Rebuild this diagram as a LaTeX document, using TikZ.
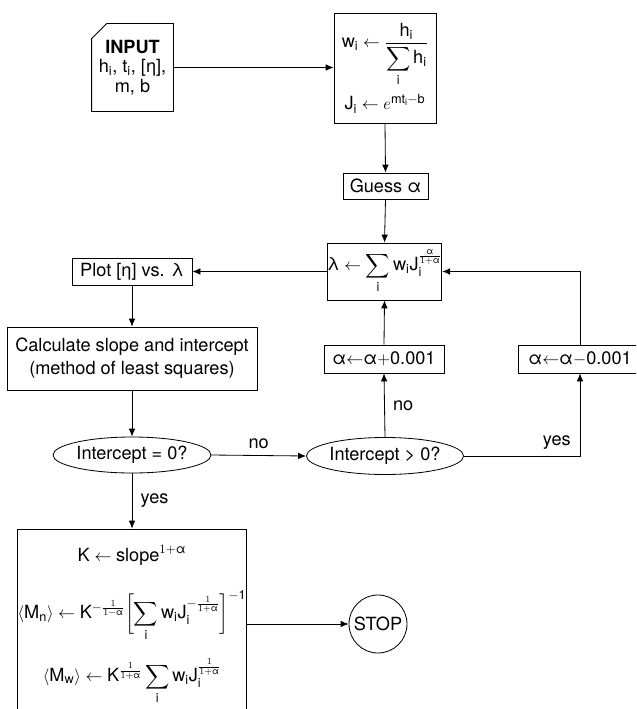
\documentclass[tikz,border=0pt]{standalone}
\usepackage{amsmath}
\usepackage{fontspec}
\setmainfont{TeX Gyre Heros}
\usetikzlibrary{positioning,arrows.meta,calc,shapes.geometric}
\newcommand{\al}{\text{α}}
\newcommand{\rv}[1]{\mathrm{#1}}

\begin{document}
\begin{tikzpicture}[x=0.03cm,y=-0.03cm,line width=0.7pt,
  font=\fontsize{15.5}{19.5}\selectfont,
  box/.style={draw,inner sep=0pt,align=center},
  test/.style={draw,ellipse,inner sep=0pt},
  arr/.style={-{Latex[length=2.4mm,width=2mm]}},
  lbl/.style={inner sep=1pt}]
\useasboundingbox (0,0) rectangle (636,709);
\clip (0,0) rectangle (636,709);
% input card with cut corner
\node[inner sep=0pt,minimum width=2.43cm,minimum height=2.61cm,align=center] (input) at (132.5,67.5)
  {\textbf{INPUT}\\[-3pt]h$_\rv{i}$, t$_\rv{i}$, [η],\\[-3pt]m, b};
\draw ($(input.north west)+(15,0)$) -- (input.north east) -- (input.south east)
  -- (input.south west) -- ($(input.north west)+(0,15)$) -- cycle;
% weights
\node[box,minimum width=3.06cm,minimum height=3.3cm] (prep) at (385,68)
  {$\rv{w}_\rv{i}\leftarrow\dfrac{\rv{h}_\rv{i}}{\displaystyle\sum_\rv{i}\rv{h}_\rv{i}}$\\[6pt]
   $\rv{J}_\rv{i}\leftarrow e^{\rv{mt}_\rv{i}-\rv{b}}$};
\node[box,minimum width=2.55cm,minimum height=0.78cm] (guess) at (385.5,186) {Guess α};
\node[box,minimum width=3.33cm,minimum height=1.71cm] (lam) at (384.5,271.5)
  {$\displaystyle\text{λ}\leftarrow\sum_\rv{i}\rv{w}_\rv{i}\rv{J}_\rv{i}^{\frac{\al}{1+\al}}$};
\node[box,minimum width=3.6cm,minimum height=0.81cm] (plot) at (132,271.5) {Plot [η] vs. λ};
\node[box,minimum width=7.5cm,minimum height=1.89cm] (calc) at (132,358.5)
  {Calculate slope and intercept\\(method of least squares)};
\node[box,minimum width=3.6cm,minimum height=0.84cm] (inc) at (384,359) {$\al{\leftarrow}\al{+}\text{0.001}$};
\node[box,minimum width=3.72cm,minimum height=0.84cm] (dec) at (580,359) {$\al{\leftarrow}\al{-}\text{0.001}$};
% tests
\node[test,minimum width=4.74cm,minimum height=1.08cm] (eqz) at (132,455) {Intercept = 0?};
\node[test,minimum width=4.71cm,minimum height=1.11cm] (gtz) at (385,456) {Intercept > 0?};
% results
\node[box,minimum width=6.6cm,minimum height=5.73cm] (res) at (132,624.5)
  {$\rv{K}\leftarrow\text{slope}^{1+\al}$\\[20pt]
   $\displaystyle\langle\rv{M}_\rv{n}\rangle\leftarrow\rv{K}^{-\frac{1}{1-\al}}
     \biggl[\sum_\rv{i}\rv{w}_\rv{i}\rv{J}_\rv{i}^{-\frac{1}{1+\al}}\biggr]^{-\text{1}}$\\[14pt]
   $\displaystyle\langle\rv{M}_\rv{w}\rangle\leftarrow\rv{K}^{\frac{1}{1+\al}}
     \sum_\rv{i}\rv{w}_\rv{i}\rv{J}_\rv{i}^{\frac{1}{1+\al}}$\\[0pt]};
\node[draw,circle,inner sep=0pt,minimum size=1.74cm] (stop) at (378,624) {STOP};
% connectors
\draw[arr] (input.east) -- (input.east -| prep.west);
\draw[arr] (prep.south) -- (guess.north);
\draw[arr] (guess.south) -- (lam.north);
\draw[arr] (lam.west) -- (plot.east);
\draw[arr] (plot.south) -- (calc.north);
\draw[arr] (calc.south) -- (eqz.north);
\draw[arr] (eqz.east) -- (gtz.west) node[lbl,midway,above=4pt] (no1) {no};
\draw[arr] (gtz.north) -- (inc.south) node[lbl,midway,right=6pt] (no2) {no};
\draw[arr] (inc.north) -- (lam.south);
\draw[arr] (gtz.east) -| (dec.south) node[lbl,pos=0.4,above=4pt] (yes1) {yes};
\draw[arr] (dec.north) |- (lam.east);
\draw[arr] (eqz.south) -- (res.north) node[lbl,midway,right=6pt] (yes2) {yes};
\draw[arr] (res.east |- stop.west) -- (stop.west);
\end{tikzpicture}
\end{document}
